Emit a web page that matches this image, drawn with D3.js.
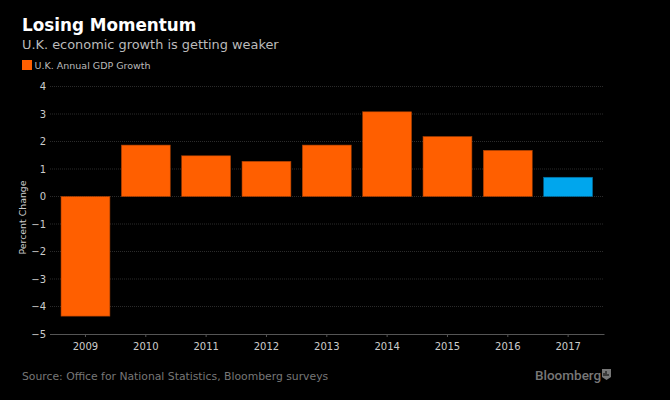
<!DOCTYPE html>
<html>
<head>
<meta charset="utf-8">
<script src="https://cdn.jsdelivr.net/npm/d3@7"></script>
<style>
  html, body { margin: 0; padding: 0; background: #000; }
  svg { display: block; }
  text { font-family: "DejaVu Sans", sans-serif; }
</style>
</head>
<body>
<div id="chart"></div>
<script>
// data
const years = ["2009", "2010", "2011", "2012", "2013", "2014", "2015", "2016", "2017"];
const growth = [-4.35, 1.87, 1.48, 1.28, 1.87, 3.08, 2.18, 1.68, 0.7];
const barColors = ["#ff5f00", "#ff5f00", "#ff5f00", "#ff5f00", "#ff5f00", "#ff5f00", "#ff5f00", "#ff5f00", "#00a6ed"];
const yTicks = [4, 3, 2, 1, 0, -1, -2, -3, -4, -5];

const width = 670;
const height = 400;

const svg = d3.select("#chart")
  .append("svg")
  .attr("width", width)
  .attr("height", height);

const x = d3.scaleBand()
  .domain(years)
  .range([55.3, 598.3])
  .paddingInner(0.19)
  .paddingOuter(0.095);

const y = d3.scaleLinear()
  .domain([-5, 4])
  .range([334, 86.5]);

// dotted grid lines
svg.append("g")
  .selectAll("line")
  .data(yTicks.filter(d => d !== -5))
  .enter()
  .append("line")
  .attr("x1", 50)
  .attr("x2", 603)
  .attr("y1", d => y(d))
  .attr("y2", d => y(d))
  .attr("stroke", "#2b2b2b")
  .attr("stroke-width", 1)
  .attr("stroke-dasharray", "1,1");

// bars
svg.append("g")
  .selectAll("rect")
  .data(years)
  .enter()
  .append("rect")
  .attr("x", d => x(d))
  .attr("width", x.bandwidth())
  .attr("y", (d, i) => y(Math.max(0, growth[i])))
  .attr("height", (d, i) => Math.abs(y(growth[i]) - y(0)))
  .attr("fill", (d, i) => barColors[i])
  .attr("stroke", (d, i) => d3.color(barColors[i]).darker(1.2))
  .attr("stroke-width", 0.6);

// y axis labels
const yAxis = svg.append("g")
  .attr("transform", "translate(46,0)")
  .call(d3.axisLeft(y).tickValues(yTicks).tickFormat(d3.format("d")).tickSize(0));
yAxis.select(".domain").remove();
yAxis.selectAll("text")
  .attr("x", 0)
  .attr("fill", "#ccc")
  .style("font-size", "10px");

// x axis
const xAxis = svg.append("g")
  .attr("transform", "translate(0,334)")
  .call(d3.axisBottom(x).tickSize(3).tickPadding(6).tickSizeOuter(0));
xAxis.select(".domain")
  .attr("stroke", "#555")
  .attr("d", "M50,0.5H604.5");
xAxis.selectAll(".tick line").attr("stroke", "#555");
xAxis.selectAll("text")
  .attr("fill", "#ccc")
  .style("font-size", "10px");

// y axis title
svg.append("text")
  .attr("transform", "translate(26,217.5) rotate(-90)")
  .attr("text-anchor", "middle")
  .attr("fill", "#ccc")
  .style("font-size", "9.4px")
  .text("Percent Change");

// headline block
svg.append("text")
  .attr("x", 22)
  .attr("y", 31)
  .attr("fill", "#fff")
  .style("font-size", "16.8px")
  .style("font-weight", "bold")
  .text("Losing Momentum");

svg.append("text")
  .attr("x", 22)
  .attr("y", 49)
  .attr("fill", "#bbb")
  .style("font-size", "12.9px")
  .text("U.K. economic growth is getting weaker");

// legend
svg.append("rect")
  .attr("x", 22)
  .attr("y", 60)
  .attr("width", 10)
  .attr("height", 10)
  .attr("fill", "#ff5f00");

svg.append("text")
  .attr("x", 34.5)
  .attr("y", 69)
  .attr("fill", "#bbb")
  .style("font-size", "9.5px")
  .text("U.K. Annual GDP Growth");

// footer
svg.append("text")
  .attr("x", 22)
  .attr("y", 380)
  .attr("fill", "#777")
  .style("font-size", "10.8px")
  .text("Source: Office for National Statistics, Bloomberg surveys");

svg.append("text")
  .attr("x", 535)
  .attr("y", 380)
  .attr("fill", "#777")
  .style("font-family", "Roboto, sans-serif")
  .style("font-size", "13.5px")
  .style("font-weight", "500")
  .text("Bloomberg");

// logo badge
svg.append("path")
  .attr("d", "M602,369H611V377L606.5,380L602,377Z")
  .attr("fill", "#777");

svg.append("path")
  .attr("d", "M604,373V376M606,371V376M608,374V376")
  .attr("stroke", "#000")
  .attr("stroke-width", 1);
</script>
</body>
</html>
